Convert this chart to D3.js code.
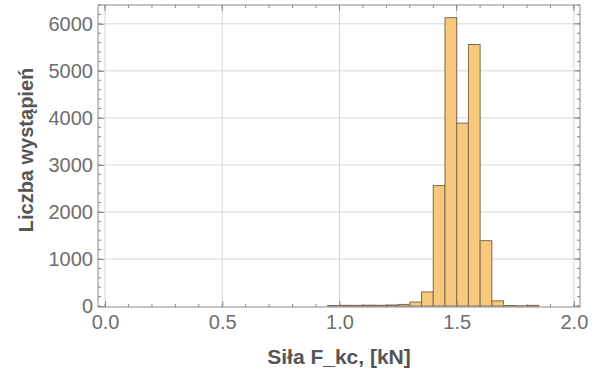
<!DOCTYPE html>
<html><head><meta charset="utf-8">
<script src="https://cdn.jsdelivr.net/npm/d3@7"></script>
<style>body{margin:0;background:#fff}svg{display:block}</style>
</head><body>
<script>
const binStarts = [0.95,1.00,1.05,1.10,1.15,1.20,1.25,1.30,1.35,1.40,1.45,1.50,1.55,1.60,1.65,1.70,1.75,1.80];
const counts    = [12,  15,  14,  18,  16,  22,  35,  85,  300, 2560,6130,3890,5560,1390,110, 12,  6,   14];
const binWidth = 0.05;
const xTicks = [0.0,0.5,1.0,1.5,2.0];
const yTicks = [0,1000,2000,3000,4000,5000,6000];

const W=604,H=376;
const svg=d3.select("body").append("svg").attr("width",W).attr("height",H);
const L=98,R=580,T=5,B=307;
const x=d3.scaleLinear().domain([-0.03,2.026]).range([L,R]);
const y=d3.scaleLinear().domain([-20,6400]).range([B,T]);
const FONT="Liberation Sans, Arial, sans-serif";

// grid
const g=svg.append("g");
g.selectAll(".gx").data(xTicks).enter().append("line")
 .attr("x1",d=>x(d)).attr("x2",d=>x(d)).attr("y1",T).attr("y2",B)
 .attr("stroke","#d6d6d6").attr("stroke-width",1);
g.selectAll(".gy").data(yTicks.filter(d=>d>0)).enter().append("line")
 .attr("x1",L).attr("x2",R).attr("y1",d=>y(d)).attr("y2",d=>y(d))
 .attr("stroke","#d6d6d6").attr("stroke-width",1);

// bars
svg.selectAll(".bar").data(binStarts).enter().append("rect")
 .attr("x",d=>x(d)).attr("width",d=>x(d+binWidth)-x(d))
 .attr("y",(d,i)=>y(counts[i])).attr("height",(d,i)=>y(0)-y(counts[i]))
 .attr("fill","#f9c97b").attr("stroke","#7a6a55").attr("stroke-width",1);

// frame
svg.append("rect").attr("x",L).attr("y",T).attr("width",R-L).attr("height",B-T)
 .attr("fill","none").attr("stroke","#8a8a8a").attr("stroke-width",1);

// axes ticks
const minorX=d3.range(0,2.01,0.1);
const minorY=d3.range(0,6401,200);
const axB=d3.axisBottom(x).tickValues(xTicks).tickFormat(d3.format(".1f")).tickSize(-6).tickPadding(8);
const axBg=svg.append("g").attr("transform",`translate(0,${B})`).call(axB);
const axL=d3.axisLeft(y).tickValues(yTicks).tickFormat(d=>d).tickSize(-6).tickPadding(5);
const axLg=svg.append("g").attr("transform",`translate(${L},0)`).call(axL);
[axBg,axLg].forEach(a=>{a.select(".domain").remove();
 a.selectAll("line").attr("stroke","#8a8a8a");
 a.selectAll("text").attr("fill","#6e6e6e").style("font-family",FONT).style("font-size","20px");});
// minor ticks
svg.append("g").selectAll("line").data(minorX).enter().append("line")
 .attr("x1",d=>x(d)).attr("x2",d=>x(d)).attr("y1",B).attr("y2",B-3).attr("stroke","#8a8a8a");
svg.append("g").selectAll("line").data(minorX).enter().append("line")
 .attr("x1",d=>x(d)).attr("x2",d=>x(d)).attr("y1",T).attr("y2",T+3).attr("stroke","#8a8a8a");
svg.append("g").selectAll("line").data(xTicks).enter().append("line")
 .attr("x1",d=>x(d)).attr("x2",d=>x(d)).attr("y1",T).attr("y2",T+6).attr("stroke","#8a8a8a");
svg.append("g").selectAll("line").data(minorY).enter().append("line")
 .attr("x1",L).attr("x2",L+3).attr("y1",d=>y(d)).attr("y2",d=>y(d)).attr("stroke","#8a8a8a");
svg.append("g").selectAll("line").data(minorY).enter().append("line")
 .attr("x1",R).attr("x2",R-3).attr("y1",d=>y(d)).attr("y2",d=>y(d)).attr("stroke","#8a8a8a");
svg.append("g").selectAll("line").data(yTicks).enter().append("line")
 .attr("x1",R).attr("x2",R-6).attr("y1",d=>y(d)).attr("y2",d=>y(d)).attr("stroke","#8a8a8a");

// labels
svg.append("text").attr("x",(L+R)/2).attr("y",364).attr("text-anchor","middle")
 .attr("fill","#555").style("font-family",FONT).style("font-size","21px").style("font-weight","bold")
 .text("Siła F_kc, [kN]");
svg.append("text").attr("transform","translate(33,150) rotate(-90)").attr("text-anchor","middle")
 .attr("fill","#555").style("font-family",FONT).style("font-size","20px").style("font-weight","bold")
 .text("Liczba wystąpień");
</script>
</body></html>
